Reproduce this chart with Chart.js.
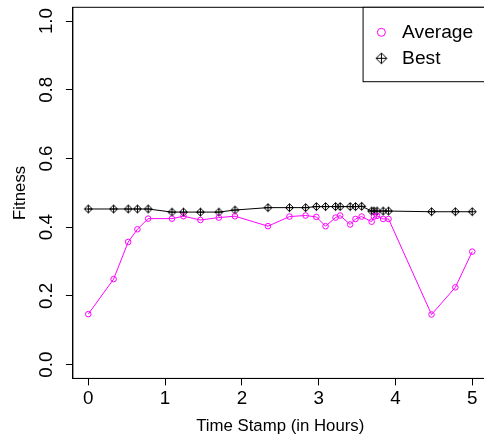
<!DOCTYPE html>
<html>
<head>
<meta charset="utf-8">
<script src="https://cdn.jsdelivr.net/npm/chart.js@4/dist/chart.umd.min.js"></script>
<style>
  html, body { margin: 0; padding: 0; overflow: hidden; background: #fff; }
  canvas { display: block; }
</style>
</head>
<body>
<canvas id="c" width="490" height="444"></canvas>
<script>
// Fitness over time: hours since start, average and best fitness
const hours = [0, 0.33, 0.52, 0.64, 0.78, 1.09, 1.24, 1.46, 1.70, 1.91, 2.34, 2.62, 2.83, 2.97, 3.09, 3.22, 3.28, 3.41, 3.48, 3.56, 3.69, 3.72, 3.76, 3.84, 3.91, 4.47, 4.78, 5.0];
const averageFitness = [0.147, 0.249, 0.357, 0.394, 0.425, 0.425, 0.432, 0.421, 0.428, 0.432, 0.403, 0.431, 0.434, 0.430, 0.403, 0.428, 0.434, 0.408, 0.424, 0.431, 0.416, 0.431, 0.433, 0.424, 0.424, 0.146, 0.225, 0.329];
const bestFitness = [0.453, 0.453, 0.453, 0.453, 0.453, 0.444, 0.444, 0.444, 0.444, 0.450, 0.457, 0.457, 0.457, 0.460, 0.460, 0.460, 0.460, 0.460, 0.460, 0.461, 0.447, 0.447, 0.447, 0.447, 0.447, 0.445, 0.445, 0.445];
const seriesNames = ['Average', 'Best'];
const xTicks = [0, 1, 2, 3, 4, 5];
const yTicks = [0, 0.2, 0.4, 0.6, 0.8, 1.0];

const FONT = '"Liberation Sans", Arial, Helvetica, sans-serif';
const MAGENTA = '#ff00ff';
const TICK_SIZE = 18.8, TITLE_SIZE = 16.8, KEY_SIZE = 19.2;

// diamond with a plus inside, used as the marker of the best series
function diamondPlus(half, lw) {
  const size = 2 * Math.ceil(half + lw) + 1;
  const cv = document.createElement('canvas');
  cv.width = size; cv.height = size;
  const g = cv.getContext('2d');
  const c = size / 2;
  g.strokeStyle = '#000';
  g.lineWidth = lw;
  g.beginPath();
  g.moveTo(c - half, c); g.lineTo(c, c - half); g.lineTo(c + half, c); g.lineTo(c, c + half); g.closePath();
  g.moveTo(c - half, c); g.lineTo(c + half, c);
  g.moveTo(c, c - half); g.lineTo(c, c + half);
  g.stroke();
  return cv;
}
const bestMarker = diamondPlus(4, 1);
const bestKeyMarker = diamondPlus(5.4, 1);

const toPoints = (xs, ys) => xs.map((x, i) => ({ x: x, y: ys[i] }));

// fixed axis band sizes, no extra room for overhanging tick labels
const fixBand = (size) => (s) => {
  if (s.isHorizontal()) s.height = size; else s.width = size;
  s.paddingTop = 0; s.paddingBottom = 0; s.paddingLeft = 0; s.paddingRight = 0;
};

// plot frame plus a boxed key in the top right corner
const frameAndKey = {
  id: 'frameAndKey',
  afterDatasetsDraw(chart) {
    const { ctx, chartArea: a } = chart;
    ctx.save();
    ctx.strokeStyle = '#000';
    ctx.lineWidth = 1;
    ctx.strokeRect(a.left, a.top, a.right - a.left, a.bottom - a.top);

    ctx.font = KEY_SIZE + 'px ' + FONT;
    const tw = Math.max(...seriesNames.map(n => ctx.measureText(n).width));
    const boxW = tw + 53.4, boxH = 74.4;
    const bx = a.right - boxW, by = a.top;
    ctx.fillStyle = '#fff';
    ctx.fillRect(bx, by, boxW, boxH);
    ctx.strokeRect(bx, by, boxW, boxH);

    const symX = bx + 18.3, txtX = bx + 39;
    const rows = [by + 25, by + 51];
    // Average: open magenta circle
    ctx.beginPath();
    ctx.strokeStyle = MAGENTA;
    ctx.arc(symX, rows[0], 4, 0, Math.PI * 2);
    ctx.stroke();
    // Best: diamond with plus
    ctx.drawImage(bestKeyMarker, symX - bestKeyMarker.width / 2, rows[1] - bestKeyMarker.height / 2);

    ctx.fillStyle = '#000';
    ctx.textAlign = 'left';
    ctx.textBaseline = 'middle';
    seriesNames.forEach((n, i) => ctx.fillText(n, txtX, rows[i]));
    ctx.restore();
  }
};

new Chart(document.getElementById('c'), {
  type: 'line',
  data: {
    datasets: [
      {
        label: seriesNames[0],
        data: toPoints(hours, averageFitness),
        borderColor: MAGENTA,
        borderWidth: 1,
        pointStyle: 'circle',
        pointRadius: 2.8,
        pointBorderColor: MAGENTA,
        pointBorderWidth: 1,
        pointBackgroundColor: 'rgba(0,0,0,0)',
        tension: 0
      },
      {
        label: seriesNames[1],
        data: toPoints(hours, bestFitness),
        borderColor: '#000',
        borderWidth: 1,
        pointStyle: bestMarker,
        pointRadius: 4,
        tension: 0
      }
    ]
  },
  options: {
    responsive: false,
    animation: false,
    devicePixelRatio: 1,
    events: [],
    layout: { autoPadding: false, padding: { top: 7.3, right: 2.4, left: 0, bottom: 0 } },
    plugins: { legend: { display: false }, tooltip: { enabled: false } },
    scales: {
      x: {
        type: 'linear',
        min: -0.2,
        max: 5.2,
        afterBuildTicks: s => { s.ticks = xTicks.map(v => ({ value: v })); },
        afterFit: fixBand(65.6),
        border: { display: true, color: '#000', width: 1 },
        grid: { display: true, drawOnChartArea: false, drawTicks: true, tickLength: 7, color: '#000', lineWidth: 1 },
        ticks: {
          autoSkip: false,
          maxRotation: 0,
          padding: 2.3,
          color: '#000',
          font: { family: FONT, size: TICK_SIZE },
          callback: v => String(v)
        },
        title: {
          display: true,
          text: 'Time Stamp (in Hours)',
          color: '#000',
          font: { family: FONT, size: TITLE_SIZE },
          padding: { top: 0, bottom: 7.1 }
        }
      },
      y: {
        type: 'linear',
        min: -0.04,
        max: 1.04,
        afterBuildTicks: s => { s.ticks = yTicks.map(v => ({ value: v })); },
        afterFit: fixBand(72.9),
        border: { display: true, color: '#000', width: 1 },
        grid: { display: true, drawOnChartArea: false, drawTicks: true, tickLength: 7, color: '#000', lineWidth: 1 },
        ticks: {
          autoSkip: false,
          minRotation: 90,
          maxRotation: 90,
          crossAlign: 'center',
          padding: 6.1,
          color: '#000',
          font: { family: FONT, size: TICK_SIZE },
          callback: v => Number(v).toFixed(1)
        },
        title: {
          display: true,
          text: 'Fitness',
          color: '#000',
          font: { family: FONT, size: TITLE_SIZE },
          padding: { top: 10.7, bottom: 0 }
        }
      }
    }
  },
  plugins: [frameAndKey]
});
</script>
</body>
</html>
